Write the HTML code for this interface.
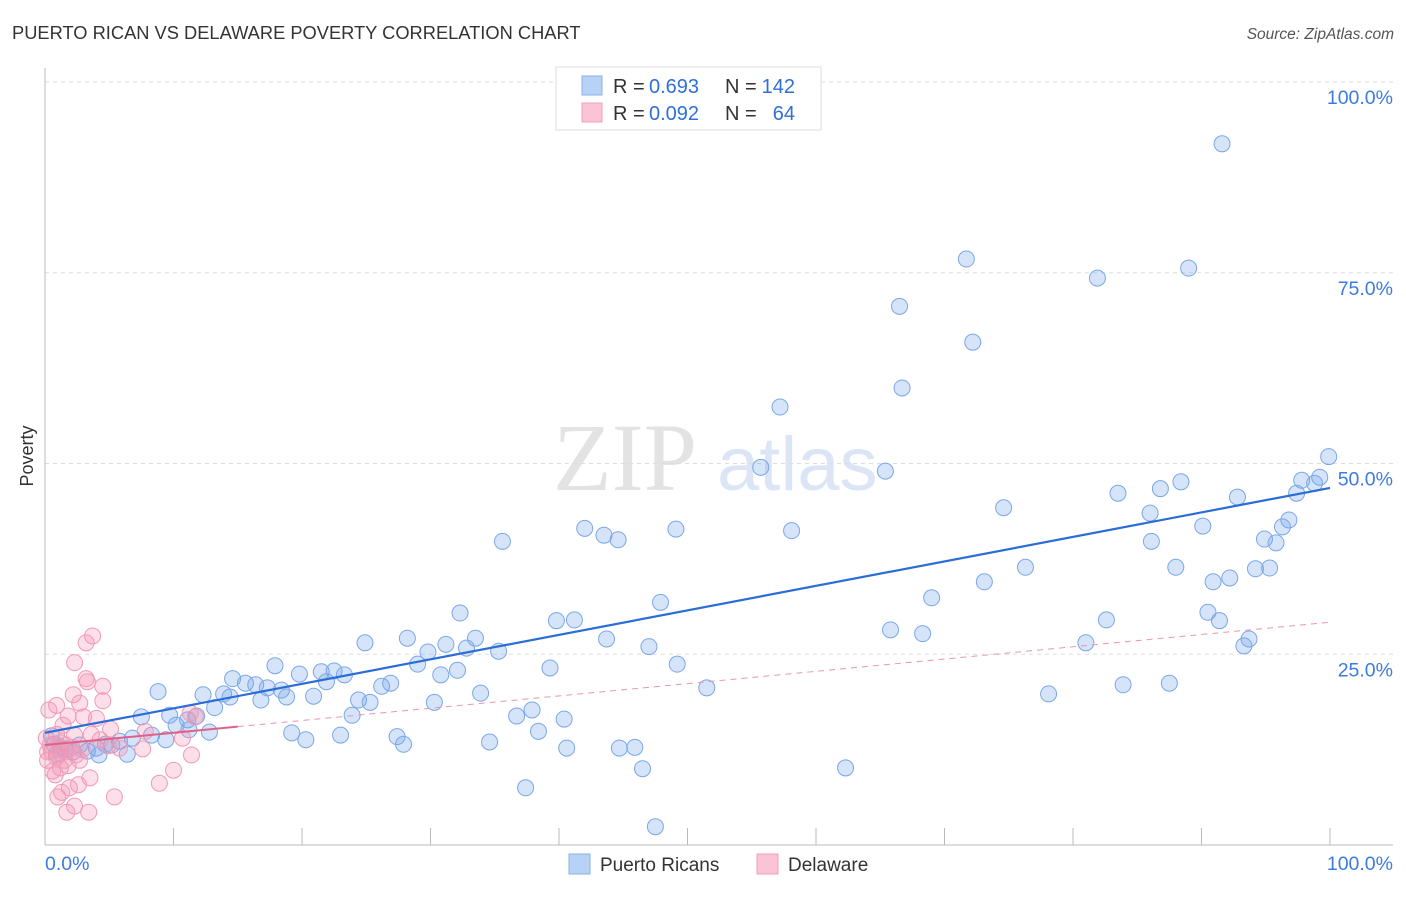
<!DOCTYPE html>
<html><head><meta charset="utf-8"><style>
body{margin:0;background:#fff;font-family:"Liberation Sans",sans-serif}
svg text{font-family:"Liberation Sans",sans-serif}
</style></head><body>
<svg id="chart" width="1406" height="892" xmlns="http://www.w3.org/2000/svg">
<text x="12" y="39" font-size="18.3" fill="#333">PUERTO RICAN VS DELAWARE POVERTY CORRELATION CHART</text>
<text x="1394" y="39" font-size="15.5" fill="#555" font-style="italic" text-anchor="end">Source: ZipAtlas.com</text>
<g opacity="0.5">
<text x="553" y="490" font-size="96" fill="#c8c8c8" style="font-family:'Liberation Serif',serif">ZIP</text>
<text x="717" y="490" font-size="76" fill="#b9cdee">atlas</text>
</g>
<g id="grid"></g>
<g id="axes"></g>
<g id="marks"></g>
<text transform="translate(33,456) rotate(-90)" font-size="18" fill="#333" text-anchor="middle">Poverty</text>
<g font-size="20">
<rect x="556" y="67" width="265" height="63" fill="#fff" stroke="#ddd"/>
<rect x="582" y="76" width="20" height="19" fill="#b8d2f6" stroke="#8ab0e8"/>
<rect x="582" y="103" width="20" height="19" fill="#fbc4d4" stroke="#f0a0b8"/>
<text x="613" y="93" fill="#333">R =</text>
<text x="649" y="93" fill="#2f6fd8">0.693</text>
<text x="725" y="93" fill="#333">N =</text>
<text x="795" y="93" fill="#2f6fd8" text-anchor="end">142</text>
<text x="613" y="120" fill="#333">R =</text>
<text x="649" y="120" fill="#2f6fd8">0.092</text>
<text x="725" y="120" fill="#333">N =</text>
<text x="795" y="120" fill="#2f6fd8" text-anchor="end">64</text>
</g>
<g>
<rect x="569" y="854" width="21" height="20" fill="#b8d2f6" stroke="#8ab0e8"/>
<text x="600" y="871" font-size="19" fill="#333">Puerto Ricans</text>
<rect x="757" y="854" width="21" height="20" fill="#fbc4d4" stroke="#f0a0b8"/>
<text x="788" y="871" font-size="19" fill="#333">Delaware</text>
</g>
</svg>
<script>
const blueX=[91.6,71.7,81.9,89.0,66.5,72.2,66.7,57.2,55.7,65.4,99.9,99.2,97.8,98.8,97.4,88.4,86.8,83.5,92.8,86.0,74.6,96.8,96.3,90.1,94.9,95.8,86.1,49.1,58.1,42.0,43.5,44.6,35.6,94.2,95.3,92.2,90.9,88.0,76.3,73.1,69.0,47.9,32.3,39.8,41.2,90.5,91.4,82.6,65.8,68.3,43.7,47.0,93.7,93.3,81.0,28.2,24.9,31.2,33.5,32.8,29.8,35.3,29.0,32.1,30.8,39.3,49.2,17.9,19.8,21.5,22.5,23.3,21.9,26.9,26.2,14.6,15.6,16.4,17.3,18.4,20.9,18.8,16.8,8.8,12.3,13.9,14.4,33.9,51.5,78.1,83.9,87.5,30.3,24.4,25.3,23.9,13.2,11.8,7.5,9.7,10.2,11.1,11.2,12.8,19.2,20.3,23.0,27.4,27.9,34.6,36.7,37.9,40.4,38.4,40.6,44.7,45.9,46.5,37.4,47.5,62.3,9.4,8.3,6.8,5.8,5.2,4.7,4.0,3.3,2.7,2.2,1.6,1.2,0.7,0.5,0.9,6.4,4.2];
const blueY=[91.9,76.8,74.3,75.6,70.6,65.9,59.9,57.4,49.5,49.0,50.9,48.2,47.8,47.4,46.1,47.6,46.7,46.1,45.6,43.5,44.2,42.6,41.7,41.8,40.1,39.6,39.8,41.4,41.2,41.5,40.6,40.0,39.8,36.2,36.3,35.0,34.5,36.4,36.4,34.5,32.4,31.8,30.4,29.4,29.5,30.5,29.4,29.5,28.2,27.7,27.0,26.0,27.0,26.1,26.5,27.1,26.5,26.3,27.1,25.8,25.3,25.4,23.7,22.9,22.3,23.2,23.7,23.5,22.4,22.7,22.8,22.3,21.4,21.2,20.8,21.8,21.2,21.0,20.6,20.3,19.5,19.4,19.0,20.1,19.7,19.8,19.4,19.9,20.6,19.8,21.0,21.2,18.7,19.0,18.7,17.0,18.0,16.9,16.8,17.0,15.7,16.4,15.1,14.8,14.7,13.8,14.4,14.2,13.2,13.5,16.9,17.7,16.5,14.9,12.7,12.7,12.8,10.0,7.5,2.4,10.1,13.8,14.4,14.0,13.6,13.1,13.2,12.7,12.3,13.1,12.2,12.6,12.8,13.2,14.3,11.9,11.9,11.8];
const pinkX=[3.7,3.2,2.3,3.2,3.3,4.5,2.2,4.5,2.7,0.9,0.3,1.8,4.0,3.0,1.4,5.1,3.6,2.3,0.9,1.2,2.1,0.4,0.5,0.9,1.5,1.8,0.2,2.7,11.3,11.7,10.7,7.8,7.6,11.4,10.0,8.9,3.5,2.6,1.9,1.3,1.0,5.4,2.3,1.7,3.4,1.2,0.8,1.6,0.1,4.3,4.9,5.8,0.6,0.2,1.6,2.4,2.9,1.1];
const pinkY=[27.4,26.5,23.9,21.8,21.4,20.8,19.7,18.9,18.6,18.3,17.7,16.9,16.6,16.8,15.7,15.2,14.5,14.4,14.5,13.4,12.8,13.1,12.3,11.5,11.1,10.4,11.1,11.1,17.3,16.8,14.0,14.9,12.6,11.8,9.8,8.1,8.8,7.9,7.5,6.9,6.3,6.3,5.1,4.3,4.3,10.1,9.2,13.1,14.0,13.8,13.0,12.7,9.7,12.2,12.2,11.8,12.5,12.5];
const blueTrend=[14.7,46.8];
const pinkTrend=[13.1,29.2];
const yTicks=[25,50,75,100];
const yTickLabels=["25.0%","50.0%","75.0%","100.0%"];
const xTicks=[10,20,30,40,50,60,70,80,90,100];
const X0=45,X1=1330,Y0=845,Y1=82;
const sx=v=>X0+(X1-X0)*v/100;
const sy=v=>Y0-(Y0-Y1)*v/100;
const NS="http://www.w3.org/2000/svg";
function mk(t,a,p){const e=document.createElementNS(NS,t);for(const k in a)e.setAttribute(k,a[k]);p.appendChild(e);return e;}
const grid=document.getElementById('grid'),axes=document.getElementById('axes'),marks=document.getElementById('marks');
yTicks.forEach((v,i)=>{
 const l=mk('line',{x1:X0,x2:1393,y1:sy(v),y2:sy(v),stroke:'#ddd','stroke-dasharray':'4,4'},grid);
 
 
 const t=mk('text',{x:1393,y:sy(v)+22,'font-size':19.5,fill:'#3d7be0','text-anchor':'end'},axes);
 t.textContent=yTickLabels[i];
 
 
});
const xa=mk('line',{x1:X0,x2:1393,y1:Y0,y2:Y0,stroke:'#bbb'},axes);


const ya=mk('line',{x1:X0,x2:X0,y1:68,y2:Y0,stroke:'#bbb'},axes);


xTicks.forEach(v=>{
 const l=mk('line',{x1:sx(v),x2:sx(v),y1:828,y2:Y0,stroke:'#bbb'},axes);
 
 
});
const xl0=mk('text',{x:45,y:870,'font-size':19.5,fill:'#3d7be0'},axes);xl0.textContent='0.0%';


const xl1=mk('text',{x:1393,y:870,'font-size':19.5,fill:'#3d7be0','text-anchor':'end'},axes);xl1.textContent='100.0%';


blueX.forEach((x,i)=>{
 const c=mk('circle',{cx:sx(x),cy:sy(blueY[i]),r:8,fill:'rgba(120,165,235,0.3)',stroke:'#7aa7e8','stroke-width':1},marks);
 
 
});
pinkX.forEach((x,i)=>{
 const c=mk('circle',{cx:sx(x),cy:sy(pinkY[i]),r:8,fill:'rgba(245,150,180,0.3)',stroke:'#f09ab6','stroke-width':1},marks);
 
 
});
const bt=mk('line',{x1:sx(0),y1:sy(blueTrend[0]),x2:sx(100),y2:sy(blueTrend[1]),stroke:'#2b6dd6','stroke-width':2.2},marks);


const pe=v=>pinkTrend[0]+(pinkTrend[1]-pinkTrend[0])*v/100;
const pd=mk('line',{x1:sx(15),y1:sy(pe(15)),x2:sx(100),y2:sy(pe(100)),stroke:'#e896b0','stroke-width':1,'stroke-dasharray':'6,5'},marks);


const ps=mk('line',{x1:sx(0),y1:sy(pe(0)),x2:sx(15),y2:sy(pe(15)),stroke:'#e0608a','stroke-width':2},marks);


</script>
</body></html>
